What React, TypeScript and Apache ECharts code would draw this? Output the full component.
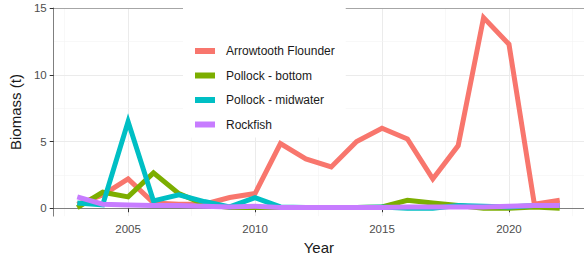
import React, { useEffect, useRef } from "react";
import * as echarts from "echarts";

const years = [2003, 2004, 2005, 2006, 2007, 2008, 2009, 2010, 2011, 2012, 2013, 2014, 2015, 2016, 2017, 2018, 2019, 2020, 2021, 2022];
const arrowtooth = [0.3, 1.0, 2.2, 0.4, 0.3, 0.3, 0.8, 1.1, 4.85, 3.7, 3.1, 5.0, 6.0, 5.2, 2.2, 4.7, 14.3, 12.3, 0.3, 0.6];
const pollockBottom = [0.05, 1.2, 0.85, 2.65, 1.1, 0.3, 0.05, 0.05, 0.05, 0.05, 0.05, 0.05, 0.1, 0.6, 0.4, 0.2, 0.0, 0.0, 0.1, 0.0];
const pollockMid = [0.4, 0.25, 6.5, 0.55, 1.0, 0.5, 0.1, 0.8, 0.1, 0.05, 0.05, 0.05, 0.1, 0.0, 0.0, 0.2, 0.15, 0.1, 0.2, 0.2];
const rockfish = [0.85, 0.3, 0.25, 0.2, 0.2, 0.15, 0.1, 0.15, 0.05, 0.05, 0.05, 0.05, 0.05, 0.1, 0.1, 0.1, 0.1, 0.15, 0.2, 0.2];

const seriesNames = ["Arrowtooth Flounder", "Pollock - bottom", "Pollock - midwater", "Rockfish"];
const seriesColors = ["#F8766D", "#7CAE00", "#00BFC4", "#C77CFF"];
const seriesValues = [arrowtooth, pollockBottom, pollockMid, rockfish];

const xTickValues = [2005, 2010, 2015, 2020];
const xMinorGrid = [2002.5, 2007.5, 2012.5, 2017.5, 2022.5];
const yTickValues = [0, 5, 10, 15];
const yMajorGrid = [0, 5, 10];
const yMinorGrid = [2.5, 7.5, 12.5];

const FONT = "'Liberation Sans', Arial, sans-serif";

export default function App() {
  const ref = useRef<HTMLDivElement>(null);
  useEffect(() => {
    if (!ref.current) return;
    const chart = echarts.init(ref.current, null, { renderer: "svg" });
    const major = { color: "#ebebeb", width: 1, type: "solid" as const };
    const minor = { color: "#f4f4f4", width: 0.6, type: "solid" as const };
    const gridMarks = [
      ...xTickValues.map((v) => ({ xAxis: v, lineStyle: major })),
      ...xMinorGrid.map((v) => ({ xAxis: v, lineStyle: minor })),
      ...yMajorGrid.map((v) => ({ yAxis: v, lineStyle: major })),
      ...yMinorGrid.map((v) => ({ yAxis: v, lineStyle: minor })),
      { yAxis: 15, lineStyle: { color: "#a6a6a6", width: 1.2, type: "solid" as const } },
    ];
    chart.setOption({
      animation: false,
      backgroundColor: "#ffffff",
      textStyle: { fontFamily: FONT },
      grid: { left: 49, top: 8, bottom: 40, right: -7, containLabel: false },
      xAxis: {
        type: "value",
        min: 2002.07,
        max: 2022.955,
        name: "Year",
        nameLocation: "middle",
        nameGap: 22,
        nameTextStyle: { fontSize: 15, color: "#1a1a1a", fontFamily: FONT },
        axisLine: { show: true, lineStyle: { color: "#7f7f7f", width: 1 } },
        axisTick: { show: true, length: 4, customValues: xTickValues, lineStyle: { color: "#333" } },
        axisLabel: {
          customValues: xTickValues,
          formatter: (v: number) => String(Math.round(v)),
          color: "#4d4d4d",
          fontSize: 11.5,
          margin: 7,
          fontFamily: FONT,
        },
        splitLine: { show: false },
      },
      yAxis: {
        type: "value",
        min: -0.59,
        max: 15.02,
        name: "Biomass (t)",
        nameLocation: "middle",
        nameGap: 28,
        nameRotate: 90,
        nameTextStyle: { fontSize: 15, color: "#1a1a1a", fontFamily: FONT },
        axisLine: { show: true, lineStyle: { color: "#7f7f7f", width: 1 } },
        axisTick: { show: true, length: 4, customValues: yTickValues, lineStyle: { color: "#333" } },
        axisLabel: {
          customValues: yTickValues,
          formatter: (v: number) => String(Math.round(v)),
          color: "#4d4d4d",
          fontSize: 11.5,
          margin: 7,
          fontFamily: FONT,
        },
        splitLine: { show: false },
      },
      legend: {
        show: true,
        orient: "vertical",
        left: 183,
        top: 0,
        z: 10,
        padding: [44, 11, 6, 12],
        backgroundColor: "#ffffff",
        itemWidth: 20,
        itemHeight: 6,
        itemGap: 10.5,
        icon: "rect",
        textStyle: { fontSize: 12, color: "#1a1a1a", lineHeight: 14, padding: [0, 0, 0, 6], fontFamily: FONT },
        data: seriesNames,
      },
      series: [
        {
          type: "line",
          name: "_grid",
          z: 0,
          data: [],
          silent: true,
          markLine: { z: 0, silent: true, symbol: ["none", "none"], label: { show: false }, animation: false, data: gridMarks },
        },
        ...seriesNames.map((name, i) => ({
          type: "line",
          name,
          z: 2 + i,
          data: years.map((y, j) => [y, seriesValues[i][j]]),
          showSymbol: false,
          symbol: "none",
          lineStyle: { width: 5, color: seriesColors[i], join: "miter" },
          itemStyle: { color: seriesColors[i] },
          color: seriesColors[i],
        })),
      ],
    });
    return () => chart.dispose();
  }, []);
  return <div ref={ref} style={{ width: 584, height: 260, position: "absolute", left: 0, top: 0 }} />;
}
